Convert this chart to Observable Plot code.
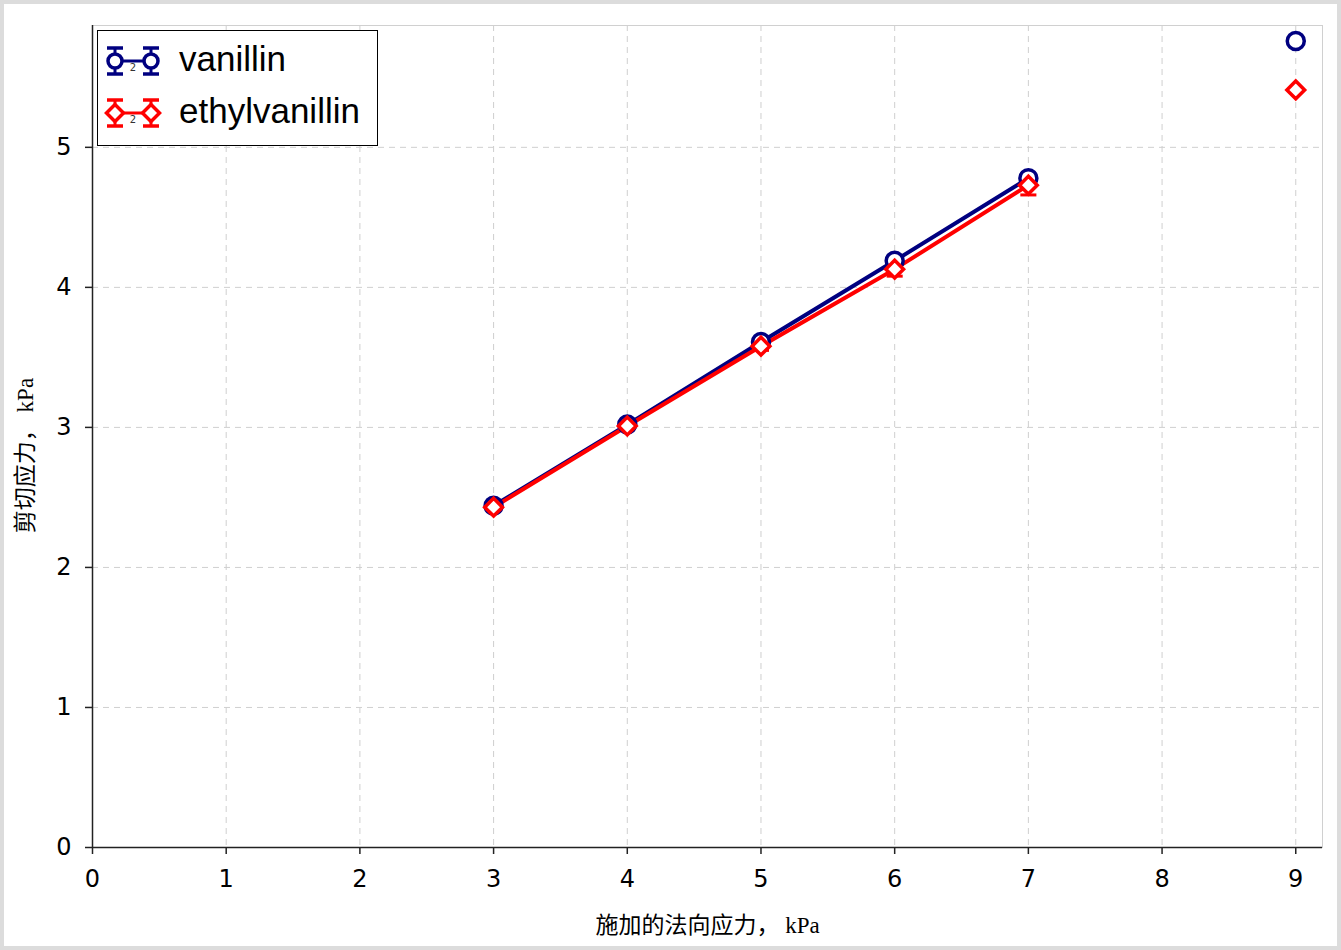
<!DOCTYPE html>
<html><head><meta charset="utf-8">
<script src="https://cdn.jsdelivr.net/npm/d3@7"></script>
<script src="https://cdn.jsdelivr.net/npm/@observablehq/plot@0.6"></script>
<style>
body{margin:0;background:#fff;}
#wrap{position:relative;width:1341px;height:950px;}
#wrap svg.plot{outline:4px solid #dcdcdc;outline-offset:-4px;}
#legend{position:absolute;left:97px;top:30px;}
</style></head>
<body><div id="wrap"></div>
<script>
const xValues = [3, 4, 5, 6, 7];
const vanillin = [2.44, 3.02, 3.61, 4.19, 4.78];
const vanillinErr = [0.02, 0.02, 0.02, 0.03, 0.03];
const ethylvanillin = [2.43, 3.01, 3.58, 4.13, 4.73];
const ethylvanillinErr = [0.02, 0.02, 0.03, 0.05, 0.07];
const extraX = [9];
const vanillinExtra = [5.76];
const ethylvanillinExtra = [5.41];
const xTicks = [0,1,2,3,4,5,6,7,8,9];
const yTicks = [0,1,2,3,4,5];
const seriesNames = ["vanillin", "ethylvanillin"];
const colors = {vanillin: "#000080", ethylvanillin: "#ff0000"};

const rows = [];
xValues.forEach((x,i)=>{
  rows.push({s:"vanillin", x, y:vanillin[i], e:vanillinErr[i]});
  rows.push({s:"ethylvanillin", x, y:ethylvanillin[i], e:ethylvanillinErr[i]});
});
const extras = [
  {s:"vanillin", x:extraX[0], y:vanillinExtra[0]},
  {s:"ethylvanillin", x:extraX[0], y:ethylvanillinExtra[0]}
];
const cap = 0.06;
const tickFont = "'DejaVu Sans', sans-serif";
const labelFont = "'Liberation Serif', 'Noto Sans CJK SC', serif";

const marks = [];
for (const s of seriesNames) {
  const d = rows.filter(r=>r.s===s);
  const c = colors[s];
  marks.push(
    Plot.line(d, {x:"x", y:"y", stroke:c, strokeWidth:4}),
    Plot.ruleX(d, {x:"x", y1:r=>r.y-r.e, y2:r=>r.y+r.e, stroke:c, strokeWidth:3}),
    Plot.link(d, {x1:r=>r.x-cap, x2:r=>r.x+cap, y1:r=>r.y-r.e, y2:r=>r.y-r.e, stroke:c, strokeWidth:3}),
    Plot.link(d, {x1:r=>r.x-cap, x2:r=>r.x+cap, y1:r=>r.y+r.e, y2:r=>r.y+r.e, stroke:c, strokeWidth:3}),
  );
}
for (const s of seriesNames) {
  const d = rows.filter(r=>r.s===s).concat(extras.filter(r=>r.s===s));
  const c = colors[s];
  marks.push(Plot.dot(d, {x:"x", y:"y", stroke:c, fill:"white", strokeWidth:3.5,
    symbol: s==="vanillin" ? "circle" : "diamond2", r: s==="vanillin" ? 8.5 : 8}));
}

const chart = Plot.plot({
  width:1341, height:950,
  marginLeft:92, marginRight:19, marginTop:25, marginBottom:103,
  style:{background:"white"},
  x:{domain:[0,9.2]},
  y:{domain:[0,5.87]},
  marks:[
    Plot.gridX(xTicks, {stroke:"#cfcfcf", strokeOpacity:1, strokeDasharray:"6,5"}),
    Plot.gridY(yTicks, {stroke:"#cfcfcf", strokeOpacity:1, strokeDasharray:"6,5"}),
    Plot.frame({stroke:"#d0d0d0"}),
    Plot.axisX(xTicks, {tickSize:0, tickPadding:22, fontSize:24, fontFamily:tickFont,
      tickFormat:"d", label:"施加的法向应力， kPa", labelArrow:"none", labelAnchor:"center", labelOffset:85}),
    Plot.axisY(yTicks, {tickSize:0, tickPadding:21, fontSize:24, fontFamily:tickFont,
      tickFormat:"d", label:"剪切应力， kPa", labelArrow:"none", labelAnchor:"center", labelOffset:76}),
    Plot.ruleX(xTicks, {y1:0, y2:0, insetBottom:-7, stroke:"#222", strokeWidth:1.5}),
    Plot.ruleY(yTicks, {x1:0, x2:0, insetLeft:-7, stroke:"#222", strokeWidth:1.5}),
    Plot.ruleY([0], {stroke:"#222", strokeWidth:1.5}),
    Plot.ruleX([0], {stroke:"#222", strokeWidth:1.5}),
    ...marks
  ]
});
chart.classList.add("plot");
chart.querySelectorAll("g[aria-label='x-axis label'] text, g[aria-label='y-axis label'] text").forEach(t=>{
  t.style.fontFamily = labelFont; t.style.fontSize = "23px"; t.setAttribute("fill","#000");
});
const yl = chart.querySelector("g[aria-label='y-axis label']");
if (yl) yl.setAttribute("transform", "translate(0,19) " + (yl.getAttribute("transform") || ""));
chart.querySelectorAll("g[aria-label='x-axis tick label'], g[aria-label='y-axis tick label']").forEach(g=>g.setAttribute("fill","#000"));
const wrap = document.getElementById("wrap");
wrap.appendChild(chart);

// legend
const ns = "http://www.w3.org/2000/svg";
const lg = document.createElementNS(ns, "svg");
lg.setAttribute("id","legend"); lg.setAttribute("width", 281); lg.setAttribute("height", 116);
let html = `<rect x="0.5" y="0.5" width="280" height="115" fill="white" stroke="#000" stroke-width="1"/>`;
seriesNames.forEach((s,i)=>{
  const cy = 31 + i*52, c = colors[s];
  const xs = [18, 54];
  html += `<line x1="${xs[0]}" x2="${xs[1]}" y1="${cy}" y2="${cy}" stroke="${c}" stroke-width="3"/>`;
  xs.forEach(x=>{
    html += `<line x1="${x}" x2="${x}" y1="${cy-13}" y2="${cy+13}" stroke="${c}" stroke-width="3"/>`;
    html += `<line x1="${x-8}" x2="${x+8}" y1="${cy-13}" y2="${cy-13}" stroke="${c}" stroke-width="3.5"/>`;
    html += `<line x1="${x-8}" x2="${x+8}" y1="${cy+13}" y2="${cy+13}" stroke="${c}" stroke-width="3.5"/>`;
    if (s==="vanillin") html += `<circle cx="${x}" cy="${cy}" r="7" fill="white" stroke="${c}" stroke-width="3.5"/>`;
    else html += `<path d="M${x},${cy-8.5}L${x+8.5},${cy}L${x},${cy+8.5}L${x-8.5},${cy}Z" fill="white" stroke="${c}" stroke-width="3.5"/>`;
  });
  html += `<text x="36" y="${cy+10}" font-size="10" font-family="DejaVu Sans" text-anchor="middle" fill="#333">2</text>`;
  html += `<text x="82" y="${cy+10}" font-size="35" font-family="'Liberation Sans', Arial, sans-serif" fill="#000">${s}</text>`;
});
lg.innerHTML = html;
wrap.appendChild(lg);
</script></body></html>
